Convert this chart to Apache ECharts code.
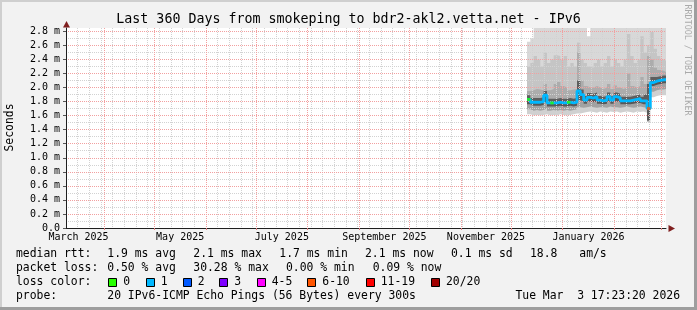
<!DOCTYPE html>
<html><head><meta charset="utf-8">
<script src="https://cdn.jsdelivr.net/npm/echarts@6/dist/echarts.min.js"></script>
<style>html,body{margin:0;padding:0;background:#f2f2f2}#c{width:697px;height:310px}</style>
</head><body><div id="c"></div>
<script>
// ---- axis / tick data (x = days since left edge of the 360-day window) ----
const monthStartDays = [23, 53, 84, 114, 145, 176, 206, 237, 267, 298, 329, 357];
const weekStartDays = [7,14,21,28,35,42,49,56,63,70,77,84,91,98,105,112,119,126,133,140,147,154,161,168,175,182,189,196,203,210,217,224,231,238,245,252,259,266,273,280,287,294,301,308,315,322,329,336,343,350,357];
const monthLabels = ['March 2025', 'May 2025', 'July 2025', 'September 2025', 'November 2025', 'January 2026'];
const monthLabelDays = [7.5, 68.5, 129.5, 191, 252, 313.5];
const yLabelTicks = [0, 0.2, 0.4, 0.6, 0.8, 1.0, 1.2, 1.4, 1.6, 1.8, 2.0, 2.2, 2.4, 2.6, 2.8];
const yMajorTicks = [0.2, 0.4, 0.6, 0.8, 1.0, 1.2, 1.4, 1.6, 1.8, 2.0, 2.2, 2.4, 2.6, 2.8];
const yMinorTicks = [0.1, 0.3, 0.5, 0.7, 0.9, 1.1, 1.3, 1.5, 1.7, 1.9, 2.1, 2.3, 2.5, 2.7];

// ---- series data (ms) ----
const sampleDays = [276.6,278.6,280.6,282.6,284.6,286.6,288.6,290.6,292.6,294.6,296.6,298.6,300.6,302.6,304.6,306.6,308.6,310.6,312.6,314.6,316.6,318.6,320.6,322.6,324.6,326.6,328.6,330.6,332.6,334.6,336.6,338.6,340.6,342.6,344.6,346.6,348.6,350.6,352.6,354.6,356.6,358.6];
const endDay = 360;
const minPing = [1.62,1.60,1.61,1.60,1.61,1.62,1.60,1.61,1.60,1.62,1.61,1.60,1.61,1.62,1.63,
  1.63,1.64,1.65,1.66,1.65,1.64,1.66,1.65,1.64,1.66,1.65,1.66,1.64,1.65,1.66,1.65,1.64,1.66,1.65,1.66,1.64,
  1.51,1.86,1.88,1.89,1.89,1.89];
const low1 = [1.69,1.67,1.68,1.67,1.68,1.70,1.67,1.68,1.67,1.68,1.67,1.68,1.67,1.68,1.69,
  1.72,1.71,1.72,1.73,1.72,1.71,1.72,1.72,1.71,1.73,1.72,1.72,1.71,1.72,1.73,1.72,1.71,1.72,1.73,1.72,1.71,
  1.52,1.94,1.96,1.97,1.97,1.98];
const low2 = [1.76,1.74,1.74,1.74,1.75,1.79,1.73,1.73,1.73,1.74,1.73,1.73,1.74,1.73,1.74,
  1.82,1.80,1.77,1.80,1.79,1.80,1.77,1.76,1.77,1.80,1.77,1.80,1.79,1.76,1.76,1.76,1.77,1.78,1.78,1.76,1.76,
  1.53,2.02,2.04,2.05,2.06,2.06];
const medianRtt = [1.83,1.79,1.79,1.79,1.80,1.89,1.78,1.78,1.78,1.79,1.78,1.78,1.79,1.78,1.79,
  1.95,1.90,1.82,1.86,1.85,1.87,1.82,1.81,1.82,1.87,1.82,1.87,1.85,1.81,1.81,1.81,1.82,1.83,1.84,1.81,1.81,
  1.70,2.07,2.09,2.10,2.11,2.11];
const hi1 = [1.89,1.85,1.85,1.85,1.86,1.95,1.84,1.84,1.84,1.85,1.84,1.84,1.85,1.84,1.85,
  2.10,1.97,1.88,1.92,1.91,1.93,1.88,1.87,1.88,1.93,1.88,1.93,1.91,1.87,1.87,1.87,1.88,1.89,1.90,1.87,1.90,
  2.05,2.15,2.15,2.16,2.17,2.17];
const hi2 = [1.95,1.96,1.98,1.97,1.96,2.05,1.96,1.98,2.05,2.08,2.02,2.00,1.96,1.97,1.98,
  2.50,2.10,2.02,2.00,2.00,2.02,2.00,1.98,2.00,2.05,1.98,2.03,2.00,1.98,2.00,2.20,2.02,2.00,2.02,2.15,2.05,
  2.45,2.40,2.28,2.25,2.24,2.22];
const hi3 = [2.30,2.35,2.45,2.40,2.30,2.50,2.35,2.40,2.46,2.45,2.40,2.45,2.30,2.35,2.30,
  2.64,2.40,2.35,2.30,2.28,2.35,2.40,2.30,2.35,2.45,2.30,2.40,2.35,2.30,2.40,2.76,2.45,2.35,2.40,2.73,2.50,
  2.60,2.79,2.55,2.45,2.40,2.38];
const maxPing = [2.65,2.70,2.85,2.85,2.85,2.85,2.85,2.85,2.85,2.85,2.85,2.85,2.85,2.85,2.85,
  2.85,2.85,2.85,2.73,2.85,2.85,2.85,2.85,2.85,2.85,2.85,2.85,2.85,2.85,2.85,2.85,2.85,2.85,2.85,2.85,2.85,
  2.85,2.85,2.85,2.85,2.85,2.85];
const lossCount = [0,1,1,1,1,1,1,0,1,1,1,1,0,1,1,
  1,1,1,1,1,1,1,1,1,1,1,1,1,1,1,1,1,1,1,1,1,
  7,1,1,1,1,1];

// ---- loss colour legend ----
const lossLabels = ['0', '1', '2', '3', '4-5', '6-10', '11-19', '20/20'];
const lossUpper = [0, 1, 2, 3, 5, 10, 19, 20];
const lossColors = ['#26ff00', '#00b8ff', '#0059ff', '#7e00ff', '#ff00ff', '#ff5500', '#ff0000', '#a10000'];

const statsRtt = ['1.9 ms avg', '2.1 ms max', '1.7 ms min', '2.1 ms now', '0.1 ms sd', '18.8', 'am/s'];
const statsLoss = ['0.50 % avg', '30.28 % max', '0.00 % min', '0.09 % now'];

function lossClass(n) { for (let i = 0; i < lossUpper.length; i++) if (n <= lossUpper[i]) return i; return lossUpper.length - 1; }

const MONO = '"DejaVu Sans Mono", "Liberation Mono", monospace';
const chart = echarts.init(document.getElementById('c'), null, {renderer: 'canvas', width: 697, height: 310});

const xs = sampleDays.concat([endDay]);
const withEnd = a => a.concat([a[a.length - 1]]);
// smoke: painted top level first, each lower level covers the one above
const levels = [minPing, low1, low2, medianRtt, hi1, hi2, hi3, maxPing];
const bandColors = ['#ffffff', '#d0d0d0', '#a2a2a2', '#585858', '#5e5e5e', '#acacac', '#c5c5c5', '#d8d8d8'];

const series = [];
for (let k = levels.length - 1; k >= 0; k--) {
  const full = withEnd(levels[k]);
  series.push({
    type: 'line', step: 'end', symbol: 'none', silent: true, animation: false, z: 2,
    lineStyle: {width: 0, opacity: 0},
    areaStyle: {color: bandColors[k], opacity: 1, origin: 'start'},
    data: xs.map((x, i) => [x, full[i]])
  });
}

// median line coloured by loss
series.push({
  type: 'line', step: 'end', symbol: 'none', z: 6, silent: true, animation: false,
  lineStyle: {color: lossColors[1], width: 2.8},
  data: xs.map((x, i) => [x, withEnd(medianRtt)[i]])
});
series.push({
  type: 'scatter', symbol: 'rect', symbolSize: [3.4, 2.8], z: 7, silent: true, animation: false,
  data: sampleDays.map((d, i) => [d + 1, medianRtt[i], lossCount[i]]).filter(p => lossClass(p[2]) !== 1),
  itemStyle: {color: p => lossColors[lossClass(p.data[2])]}
});

// ---- text / decoration ----
const graphic = [
  {type: 'rect', shape: {x: 0, y: 0, width: 697, height: 2}, style: {fill: '#cfcfcf'}, silent: true},
  {type: 'rect', shape: {x: 0, y: 0, width: 2, height: 310}, style: {fill: '#cfcfcf'}, silent: true},
  {type: 'rect', shape: {x: 0, y: 307, width: 697, height: 3}, style: {fill: '#9e9e9e'}, silent: true},
  {type: 'rect', shape: {x: 694, y: 0, width: 3, height: 310}, style: {fill: '#9e9e9e'}, silent: true},
  {type: 'polygon', shape: {points: [[66.5, 21], [63, 27.5], [70, 27.5]]}, style: {fill: '#801f1f'}, z: 10, silent: true},
  {type: 'polygon', shape: {points: [[675, 228.5], [668.5, 225], [668.5, 232]]}, style: {fill: '#801f1f'}, z: 10, silent: true},
  {type: 'text', x: 348.5, y: 19.5, style: {text: 'Last 360 Days from smokeping to bdr2-akl2.vetta.net - IPv6', font: '13.3px ' + MONO, fill: '#000', align: 'center', verticalAlign: 'middle'}},
  {type: 'text', x: 10.5, y: 127.5, rotation: Math.PI / 2, style: {text: 'Seconds', font: '11.4px ' + MONO, fill: '#000', align: 'center', verticalAlign: 'middle'}},
  {type: 'text', x: 687.5, y: 60, rotation: -Math.PI / 2, style: {text: 'RRDTOOL / TOBI OETIKER', font: '8.4px ' + MONO, fill: '#aaaaaa', align: 'center', verticalAlign: 'middle'}}
];
const LF = '11.4px ' + MONO;
function txt(s, x, y, align) { graphic.push({type: 'text', x: x, y: y, style: {text: s, font: LF, fill: '#000', align: align || 'left', verticalAlign: 'middle'}}); }
const row = [254.5, 268.5, 282.5, 296.5];
txt('median rtt:', 16, row[0]);
const rttX = [107.3, 193.3, 279.3, 365, 451, 530, 579.3];
statsRtt.forEach((s, i) => txt(s, rttX[i], row[0]));
txt('packet loss:', 16, row[1]);
const lossX = [107.3, 193.3, 286, 372.7];
statsLoss.forEach((s, i) => txt(s, lossX[i], row[1]));
txt('loss color:', 16, row[2]);
const boxX = [108.3, 145.7, 182.7, 219.3, 256.7, 307.3, 365.7, 431];
lossLabels.forEach((s, i) => {
  graphic.push({type: 'rect', shape: {x: Math.round(boxX[i]) + 0.5, y: 278.5, width: 8, height: 8}, style: {fill: lossColors[i], stroke: '#000', lineWidth: 1}});
  txt(s, boxX[i] + 15, row[2]);
});
txt('probe:', 16, row[3]);
txt('20 IPv6-ICMP Echo Pings (56 Bytes) every 300s', 107.3, row[3]);
txt('Tue Mar  3 17:23:20 2026', 680, row[3], 'right');

const minorStyle = {color: '#d2d2d2', width: 1, type: [1, 1]};
const majorStyle = {color: '#f2a0a0', width: 1, type: [1, 1]};
const hiddenGridAxis = (ticks, style, z) => ({
  type: 'value', min: 0, show: true, z: z,
  axisLine: {show: false}, axisLabel: {show: false},
  axisTick: {show: false, customValues: ticks},
  splitLine: {show: true, lineStyle: style}
});
const YMAX = 2.847;

chart.setOption({
  backgroundColor: '#f2f2f2',
  animation: false,
  grid: {left: 66, right: 31, top: 28, bottom: 82, show: true, backgroundColor: '#ffffff', borderWidth: 0},
  xAxis: [
    {
      type: 'value', min: 0, max: endDay, z: 5,
      axisLine: {show: true, onZero: false, lineStyle: {color: '#1f1f1f', width: 1}},
      axisTick: {show: true, customValues: monthStartDays, length: 2, lineStyle: {color: '#e08080'}},
      splitLine: {show: false},
      axisLabel: {
        customValues: monthLabelDays, margin: 4, color: '#000', fontFamily: MONO, fontSize: 10, hideOverlap: false,
        formatter: v => { const i = monthLabelDays.findIndex(d => Math.abs(d - v) < 0.01); return i >= 0 ? monthLabels[i] : ''; }
      }
    },
    Object.assign(hiddenGridAxis(weekStartDays, minorStyle, 3), {max: endDay}),
    Object.assign(hiddenGridAxis(monthStartDays, majorStyle, 4), {max: endDay})
  ],
  yAxis: [
    {
      type: 'value', min: 0, max: YMAX, z: 5,
      axisLine: {show: true, onZero: false, lineStyle: {color: '#1f1f1f', width: 1}},
      axisTick: {show: true, customValues: yLabelTicks, length: 3, lineStyle: {color: '#555'}},
      splitLine: {show: false},
      axisLabel: {
        customValues: yLabelTicks, margin: 6, color: '#000', fontFamily: MONO, fontSize: 10,
        formatter: v => v === 0 ? '0.0' : v.toFixed(1) + ' m'
      }
    },
    Object.assign(hiddenGridAxis(yMinorTicks, minorStyle, 3), {max: YMAX, position: 'left'}),
    Object.assign(hiddenGridAxis(yMajorTicks, majorStyle, 4), {max: YMAX, position: 'left'})
  ],
  series: series,
  graphic: graphic
});
</script></body></html>
